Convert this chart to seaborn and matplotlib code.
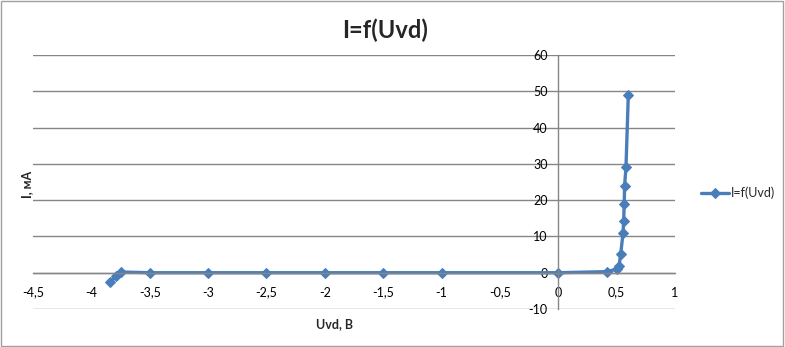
import matplotlib
matplotlib.use("Agg")
import matplotlib.pyplot as plt
import matplotlib.ticker as mticker
import seaborn as sns
import pandas as pd

# Data
u_vd = [-3.84, -3.79, -3.75, -3.5, -3.0, -2.5, -2.0, -1.5, -1.0, 0.0,
        0.42, 0.50, 0.52, 0.535, 0.555, 0.56, 0.565, 0.568, 0.58, 0.60]
i_ma = [-2.6, -1.0, 0.2, 0.0, 0.0, 0.0, 0.0, 0.0, 0.0, 0.0,
        0.3, 1.0, 1.8, 5.2, 11.0, 14.3, 19.0, 24.0, 29.0, 49.0]
series_name = "I=f(Uvd)"
x_ticks = [-4.5, -4, -3.5, -3, -2.5, -2, -1.5, -1, -0.5, 0, 0.5, 1]
y_ticks = [-10, 0, 10, 20, 30, 40, 50, 60]

df = pd.DataFrame({"Uvd": u_vd, "I": i_ma, "series": series_name})

sns.set_style("white")
plt.rcParams["font.family"] = ["Lato", "DejaVu Sans"]

fig = plt.figure(figsize=(7.85, 3.47), dpi=100)
ax = fig.add_axes([33 / 785, 1 - 309 / 347, 642 / 785, 254 / 347])

blue = "#4A7EBB"
sns.lineplot(data=df, x="Uvd", y="I", hue="series", palette=[blue], sort=False,
             marker="D", markersize=5.5, markeredgecolor=blue, linewidth=2.4, ax=ax)

ax.set_xlim(-4.5, 1)
ax.set_ylim(-10, 60)
ax.set_xticks(x_ticks)
ax.set_yticks(y_ticks)
fmt = mticker.FuncFormatter(lambda v, p: ("%g" % v).replace(".", ","))
ax.xaxis.set_major_formatter(fmt)
ax.yaxis.set_major_formatter(fmt)

grid_c = "#868686"
ax.yaxis.grid(True, color=grid_c, linewidth=1)
ax.xaxis.grid(False)
ax.set_axisbelow(True)
for s in ["top", "right"]:
    ax.spines[s].set_visible(False)
ax.spines["left"].set_position(("data", 0))
ax.spines["bottom"].set_position(("data", 0))
for s in ["left", "bottom"]:
    ax.spines[s].set_color(grid_c)
    ax.spines[s].set_linewidth(1)
ax.tick_params(axis="both", labelsize=9, colors="black", length=4, width=1,
               direction="out")
ax.tick_params(axis="both", color=grid_c)
ax.tick_params(axis="x", pad=6)

ax.set_xlabel("Uvd, B", fontsize=9, fontweight="bold")
ax.set_ylabel("I, мA", fontsize=9, fontweight="bold")
ax.xaxis.set_label_coords(0.469, -0.035)
ax.yaxis.set_label_coords(0.0, 0.49)

fig.text(385 / 785, 1 - 30 / 347, "I=f(Uvd)", fontsize=17, fontweight="bold",
         ha="center", va="center")

leg = ax.legend(loc="center left", bbox_to_anchor=(690 / 785, 1 - 193 / 347),
                bbox_transform=fig.transFigure, frameon=False, fontsize=9,
                handlelength=2.2, handletextpad=0.2)

fig.patches.append(plt.Rectangle((0.001, 0.003), 0.996, 0.994, transform=fig.transFigure,
                                 fill=False, edgecolor="#A0A0A0", linewidth=1))

fig.savefig("out.png", dpi=100)
